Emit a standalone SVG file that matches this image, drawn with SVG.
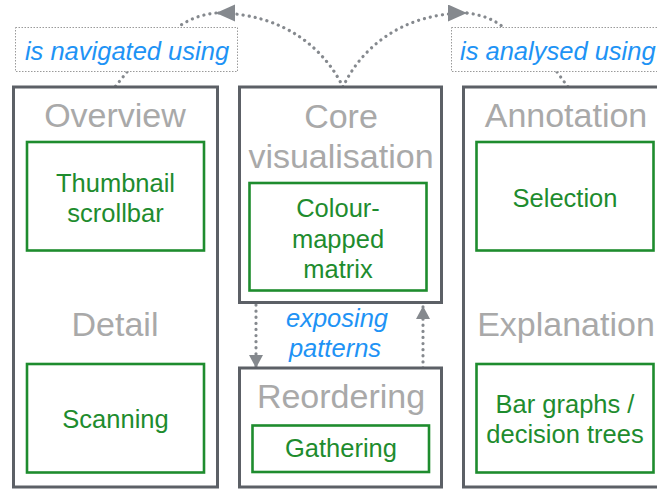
<svg xmlns="http://www.w3.org/2000/svg" width="657" height="489" viewBox="0 0 657 489">
<style>
.outer{fill:#fff;stroke:#5c6066;stroke-width:3}
.inner{fill:none;stroke:#1e8c2e;stroke-width:2.6}
.head{font-family:"Liberation Sans",Arial,sans-serif;font-size:34px;fill:#a9a9a9;text-anchor:middle}
.gt{font-family:"Liberation Sans",Arial,sans-serif;font-size:25.5px;fill:#1e8c2e;text-anchor:middle}
.bt{font-family:"Liberation Sans",Arial,sans-serif;font-size:25.5px;font-style:italic;fill:#1e93f5}
.lbl{fill:#fff;stroke:#9a9a9a;stroke-width:1;stroke-dasharray:1.5 1.5}
.dot{fill:none;stroke:#85898e;stroke-width:3.2;stroke-linecap:round;stroke-dasharray:0.1 6}
</style>
<defs>
<marker id="ah" markerUnits="userSpaceOnUse" markerWidth="20" markerHeight="18" refX="19" refY="8.5" orient="auto"><path d="M0,0 L19,8.5 L0,17 z" fill="#85898e"/></marker>
<marker id="as" markerUnits="userSpaceOnUse" markerWidth="15" markerHeight="15" refX="13" refY="7" orient="auto"><path d="M0,0 L13,7 L0,14 z" fill="#85898e"/></marker>
</defs>

<g id="connectors">
<path class="dot" d="M343,87 C325,50 285,13 216,13" marker-end="url(#ah)"/>
<path class="dot" d="M216,13 Q195,15 178,27"/>
<path class="dot" d="M127,72 L115,87"/>
<path class="dot" d="M343,87 C360,50 400,13 467,13" marker-end="url(#ah)"/>
<path class="dot" d="M467,13 Q490,16 503,27"/>
<path class="dot" d="M557,72 L568,87"/>
<path class="dot" d="M256,305 L256,368" marker-end="url(#as)"/>
<path class="dot" d="M423,368 L423,306" marker-end="url(#as)"/>
</g>

<g id="label-navigated">
<rect class="lbl" x="15.5" y="27.5" width="222" height="44"/>
<text class="bt" x="127" y="60" text-anchor="middle">is navigated using</text>
</g>
<g id="label-analysed">
<rect class="lbl" x="451.5" y="27.5" width="240" height="44"/>
<text class="bt" x="460" y="60">is analysed using</text>
</g>
<g id="label-exposing">
<text class="bt" x="337" y="327" text-anchor="middle">exposing</text>
<text class="bt" x="335" y="357" text-anchor="middle">patterns</text>
</g>

<g id="overview-detail">
<rect class="outer" x="13.5" y="87" width="204" height="400"/>
<text class="head" x="115" y="127">Overview</text>
<text class="head" x="115" y="336">Detail</text>
</g>
<g id="thumbnail">
<rect class="inner" x="27" y="142" width="177" height="108.5"/>
<text class="gt" x="115.5" y="192">Thumbnail</text>
<text class="gt" x="115.5" y="222">scrollbar</text>
</g>
<g id="scanning">
<rect class="inner" x="27" y="364" width="177" height="108.5"/>
<text class="gt" x="115.5" y="428">Scanning</text>
</g>

<g id="core">
<rect class="outer" x="239.5" y="87" width="202" height="215.5"/>
<text class="head" x="341" y="128">Core</text>
<text class="head" x="341" y="168">visualisation</text>
</g>
<g id="matrix">
<rect class="inner" x="249.5" y="183" width="177" height="107.5"/>
<text class="gt" x="338" y="217">Colour-</text>
<text class="gt" x="338" y="248">mapped</text>
<text class="gt" x="338" y="278">matrix</text>
</g>

<g id="reordering">
<rect class="outer" x="239.5" y="368" width="202" height="119"/>
<text class="head" x="341" y="408">Reordering</text>
</g>
<g id="gathering">
<rect class="inner" x="252.5" y="425.5" width="176.5" height="46.5"/>
<text class="gt" x="341" y="457">Gathering</text>
</g>

<g id="annotation-explanation">
<rect class="outer" x="463.5" y="87" width="220" height="400"/>
<text class="head" x="566" y="127">Annotation</text>
<text class="head" x="566" y="336">Explanation</text>
</g>
<g id="selection">
<rect class="inner" x="476.5" y="142" width="177" height="108.5"/>
<text class="gt" x="565" y="207">Selection</text>
</g>
<g id="bargraphs">
<rect class="inner" x="476.5" y="364" width="177" height="108.5"/>
<text class="gt" x="565" y="413">Bar graphs /</text>
<text class="gt" x="565" y="443">decision trees</text>
</g>
</svg>
